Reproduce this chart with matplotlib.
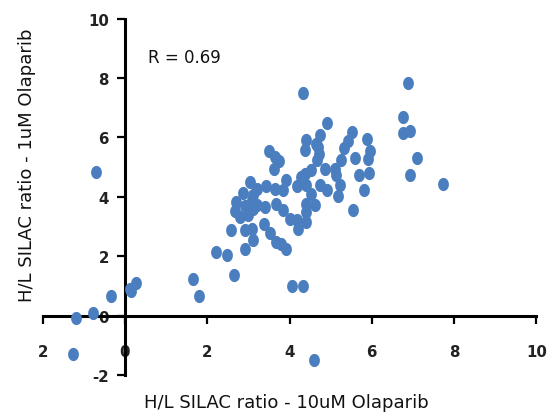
import numpy as np
import matplotlib
matplotlib.use("Agg")
import matplotlib.pyplot as plt
from matplotlib.path import Path

# Data (x: 10uM, y: 1uM)
x_10uM = [4.34, 6.89, 4.91, 6.77, 6.75, 6.92, 7.09, 6.94, 5.53, 5.88,
          5.96, 5.90, 5.58, 5.68, 5.92, 5.80, 5.54, 5.42, 5.32, 5.25,
          4.75, 4.41, 4.38, 4.69, 4.67, 4.87, 5.10, 5.14, 5.22, 5.19,
          4.91, 4.73, 4.53, 4.37, 4.29, 4.41, 4.53, 4.41, 4.63, 4.41,
          4.41, 4.18, 4.21, 4.00, 3.84, 3.68, 4.18, 3.91, 3.84, 3.64,
          3.42, 3.50, 3.64, 3.75, 3.62, 3.03, 3.21, 2.87, 3.11, 2.69,
          2.92, 3.20, 3.40, 2.67, 2.79, 2.99, 3.37, 2.59, 2.91, 3.10,
          3.11, 3.52, 3.68, 3.80, 3.91, 2.21, 2.49, 2.92, 2.65, 1.66,
          1.80, 4.07, 4.34, -0.71, -1.19, -0.77, -0.34, 0.12, 0.15, 0.27,
          -1.27, 4.59, 7.74, 3.08, 3.11, 4.65, 4.72]
y_1uM = [7.51, 7.84, 6.50, 6.69, 6.15, 6.22, 5.31, 4.75, 6.19, 5.95,
         5.53, 5.29, 5.31, 4.72, 4.80, 4.23, 3.55, 5.87, 5.65, 5.25,
         6.07, 5.90, 5.57, 5.68, 5.23, 4.95, 4.95, 4.72, 4.41, 4.02,
         4.22, 4.41, 4.89, 4.78, 4.67, 4.41, 4.11, 3.77, 3.74, 3.49,
         3.15, 3.21, 2.93, 3.27, 3.55, 3.77, 4.35, 4.56, 4.22, 4.28,
         4.35, 5.53, 5.34, 5.20, 4.95, 4.50, 4.28, 4.13, 4.05, 3.83,
         3.71, 3.74, 3.66, 3.51, 3.32, 3.38, 3.10, 2.90, 2.87, 2.93,
         2.56, 2.79, 2.50, 2.42, 2.26, 2.16, 2.06, 2.26, 1.39, 1.25,
         0.66, 1.02, 1.02, 4.84, -0.08, 0.09, 0.66, 0.91, 0.83, 1.11,
         -1.29, -1.47, 4.43, 3.88, 3.60, 5.78, 5.45]

x_ticks = [-2, 0, 2, 4, 6, 8, 10]
x_ticklabels = ["2", "0", "2", "4", "6", "8", "10"]
y_ticks = [-2, 0, 2, 4, 6, 8, 10]
y_ticklabels = ["-2", "0", "2", "4", "6", "8", "10"]
r_text = "R = 0.69"
x_title = "H/L SILAC ratio - 10uM Olaparib"
y_title = "H/L SILAC ratio - 1uM Olaparib"

plt.rcParams['font.family'] = ['DejaVu Sans']

fig = plt.figure(figsize=(5.49, 4.14), dpi=100)
ax = fig.add_axes([42.6 / 549, (414 - 376.3) / 414, 493.8 / 549, 356.8 / 414])

t = np.linspace(0, 2 * np.pi, 60)
ell = Path(np.column_stack([0.82 * np.cos(t), np.sin(t)]))

ax.scatter(x_10uM, y_1uM, s=90, marker=ell, color='#4a7ebf', linewidths=0, zorder=3,
           clip_on=False)

ax.set_xlim(-2, 10)
ax.set_ylim(-2, 10)
for s in ['top', 'right']:
    ax.spines[s].set_visible(False)
ax.spines['left'].set_position(('data', 0))
ax.spines['bottom'].set_position(('data', 0))
for s in ['left', 'bottom']:
    ax.spines[s].set_linewidth(2.2)
    ax.spines[s].set_color('black')

ax.set_xticks(x_ticks)
ax.set_xticklabels(x_ticklabels)
ax.set_yticks(y_ticks)
ax.set_yticklabels(y_ticklabels)
ax.tick_params(axis='x', direction='out', length=5.5, width=1.6, pad=15,
               labelsize=10.8)
ax.tick_params(axis='y', direction='out', length=5.5, width=1.6, pad=6,
               labelsize=10.8)
for lab in ax.get_xticklabels() + ax.get_yticklabels():
    lab.set_fontweight('bold')
    lab.set_color('#222222')

ax.text(0.56, 8.69, r_text, fontsize=12, ha='left', va='center', color='#111111')

fig.text(286 / 549, 1 - 408 / 414, x_title, ha='center', va='baseline', fontsize=13,
         color='#111111')
fig.text(32 / 549, 1 - 165 / 414, y_title, ha='center', va='baseline', fontsize=13,
         rotation=90, rotation_mode='anchor', color='#111111')

fig.savefig('out.png', dpi=100)
